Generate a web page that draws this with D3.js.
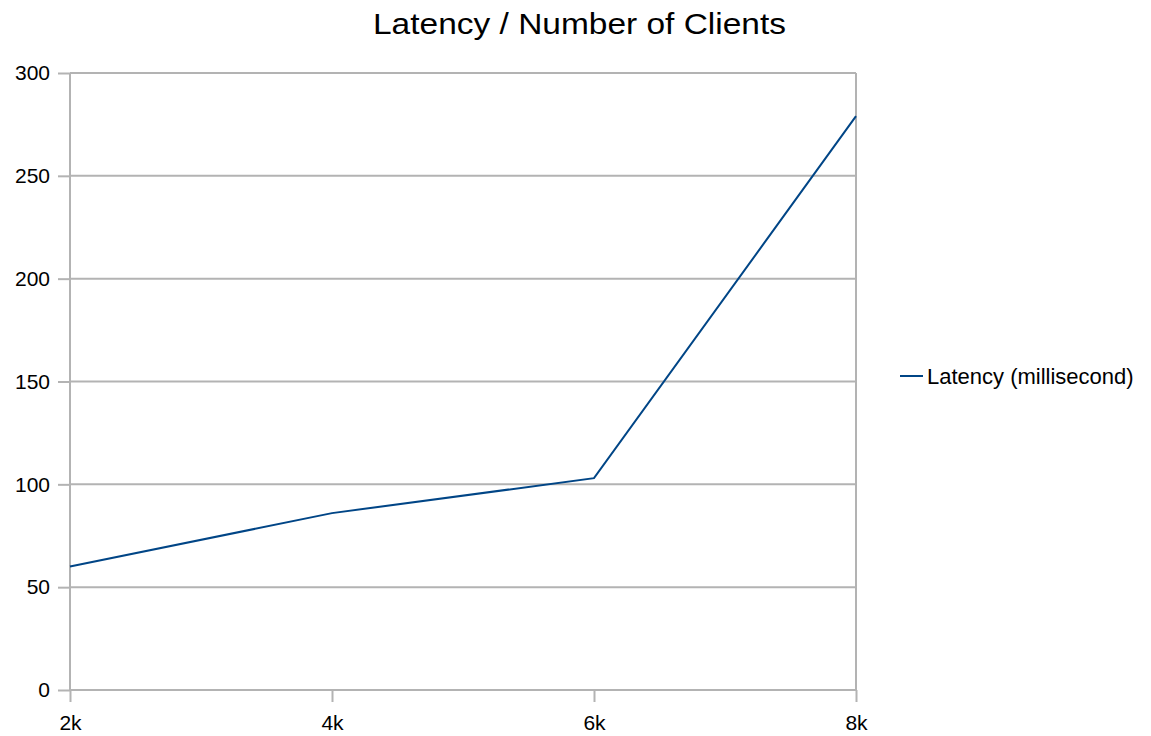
<!DOCTYPE html>
<html>
<head>
<meta charset="utf-8">
<script src="https://cdn.jsdelivr.net/npm/d3@7"></script>
<style>
  html, body { margin: 0; padding: 0; background: #fff; }
  svg { display: block; font-family: "Liberation Sans", Arial, sans-serif; }
</style>
</head>
<body>
<svg id="chart" width="1151" height="736"></svg>
<script>
// Chart data
const clients = ["2k", "4k", "6k", "8k"];
const latency = [60, 86, 103, 279];
const yTicks = [0, 50, 100, 150, 200, 250, 300];
const seriesName = "Latency (millisecond)";
const chartTitle = "Latency / Number of Clients";

const svg = d3.select("#chart");
const plot = { left: 70, right: 856, top: 73, bottom: 690 };
const gridColor = "#b3b3b3";
const lineColor = "#004586";
const fontFamily = "Liberation Sans, Arial, sans-serif";

const x = d3.scalePoint().domain(clients).range([plot.left, plot.right]);
const y = d3.scaleLinear().domain([0, 300]).range([plot.bottom, plot.top]);

// Horizontal gridlines
svg.append("g")
  .selectAll("line")
  .data(yTicks)
  .join("line")
  .attr("x1", plot.left).attr("x2", plot.right)
  .attr("y1", d => y(d)).attr("y2", d => y(d))
  .attr("stroke", gridColor).attr("stroke-width", 2);

// Right border of plot area
svg.append("line")
  .attr("x1", plot.right).attr("x2", plot.right)
  .attr("y1", plot.top).attr("y2", plot.bottom)
  .attr("stroke", gridColor).attr("stroke-width", 2);

// Y axis
const yAxis = svg.append("g")
  .attr("transform", `translate(${plot.left},0)`)
  .call(d3.axisLeft(y).tickValues(yTicks).tickSize(12).tickPadding(8));
yAxis.select(".domain").attr("stroke", gridColor).attr("stroke-width", 2)
  .attr("d", `M0,${plot.top}V${plot.bottom}`);
yAxis.selectAll(".tick line").attr("stroke", gridColor).attr("stroke-width", 2);
yAxis.selectAll(".tick text")
  .attr("fill", "#000").attr("font-size", 21)
  .attr("font-family", fontFamily);

// X axis
const xAxis = svg.append("g")
  .attr("transform", `translate(0,${plot.bottom})`)
  .call(d3.axisBottom(x).tickSize(12).tickPadding(13));
xAxis.select(".domain").attr("stroke", gridColor).attr("stroke-width", 2)
  .attr("d", `M${plot.left},0H${plot.right}`);
xAxis.selectAll(".tick line").attr("stroke", gridColor).attr("stroke-width", 2);
xAxis.selectAll(".tick text")
  .attr("fill", "#000").attr("font-size", 21)
  .attr("font-family", fontFamily);

// Series line
const line = d3.line()
  .x((d, i) => x(clients[i]))
  .y(d => y(d));
svg.append("path")
  .datum(latency)
  .attr("d", line)
  .attr("fill", "none")
  .attr("stroke", lineColor)
  .attr("stroke-width", 2);

// Title
svg.append("text")
  .attr("x", 579.5).attr("y", 34)
  .attr("text-anchor", "middle")
  .attr("font-size", 30)
  .attr("textLength", 413)
  .attr("lengthAdjust", "spacingAndGlyphs")
  .attr("fill", "#000")
  .text(chartTitle);

// Legend
const legend = svg.append("g").attr("transform", "translate(900,376)");
legend.append("line")
  .attr("x1", 0).attr("x2", 23).attr("y1", 0).attr("y2", 0)
  .attr("stroke", lineColor).attr("stroke-width", 2);
legend.append("text")
  .attr("x", 27).attr("y", 7.5)
  .attr("font-size", 22)
  .attr("fill", "#000")
  .text(seriesName);
</script>
</body>
</html>
